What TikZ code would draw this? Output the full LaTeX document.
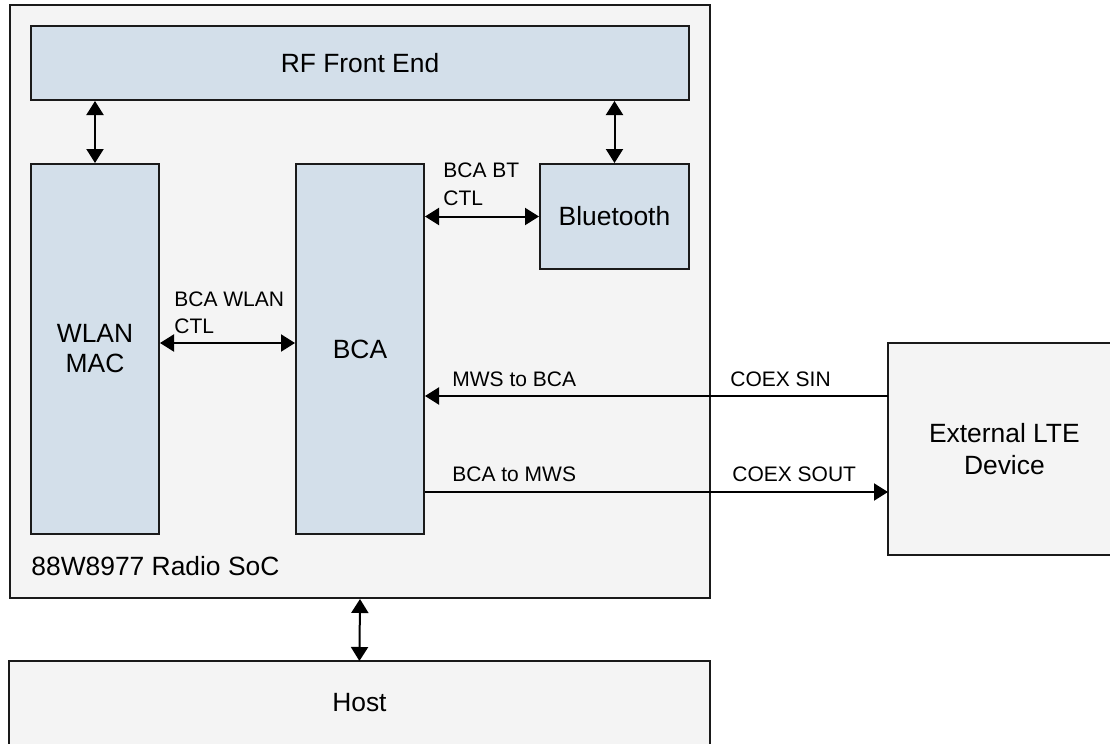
\documentclass[tikz,border=0pt]{standalone}
\usepackage{fontspec}
\setmainfont{Liberation Sans}
\usetikzlibrary{arrows.meta}
\definecolor{boxblue}{HTML}{D3DFEA}
\definecolor{boxgray}{HTML}{F4F4F4}
\definecolor{edge}{HTML}{1A1A1A}
\tikzset{
  blkbase/.style={anchor=north west, inner sep=0pt, align=center,
              font=\fontsize{13.2}{16}\selectfont},
  blk/.style={blkbase, draw=edge, line width=1pt},
  bluebox/.style={blk, fill=boxblue},
  graybox/.style={blk, fill=boxgray},
  openbox/.style={blkbase, fill=boxgray},
  outline/.style={draw=edge, line width=1pt},
  lbl/.style={anchor=base west, inner sep=0pt, align=left, font=\fontsize{10.5}{13.5}\selectfont},
  conn/.style={draw=black, line width=1pt},
  biarrow/.style={conn, {Triangle[length=7pt,width=8.5pt]}-{Triangle[length=7pt,width=8.5pt]}},
  onearrow/.style={conn, -{Triangle[length=7pt,width=8.5pt]}},
}
\begin{document}
\begin{tikzpicture}[x=0.5pt, y=-0.5pt]
\useasboundingbox (0,0) rectangle (1110,744);
\fill[white] (0,0) rectangle (1110,744);
\clip (0,0) rectangle (1110,744);
% SoC container
\node[graybox, minimum width=350pt, minimum height=296.5pt] (soc) at (9,4) {};
\node[anchor=base west, inner sep=0pt, font=\fontsize{13.2}{16}\selectfont] (soclbl) at (31,575) {88W8977 Radio SoC};
% inner blocks
\node[bluebox, minimum width=329pt, minimum height=37pt] (rf) at (30,25) {RF Front End};
\node[bluebox, minimum width=64pt, minimum height=185pt] (wlan) at (30,163) {WLAN\\[-1pt]MAC};
\node[bluebox, minimum width=64pt, minimum height=185pt] (bca) at (295,163) {BCA};
\node[bluebox, minimum width=74.5pt, minimum height=52.5pt] (bt) at (539,163) {Bluetooth};
% external blocks (cut by the picture edge)
\node[openbox, minimum width=116pt, minimum height=105.5pt] (lte) at (888,343) {External LTE\\Device};
\draw[outline] (lte.north east) -- (lte.north west) -- (lte.south west) -- (lte.south east);
\node[openbox, minimum width=350pt, minimum height=41.5pt] (host) at (9,661) {Host};
\draw[outline] (host.south west) -- (host.north west) -- (host.north east) -- (host.south east);
% coordinates for connector heights
\coordinate (ywc) at (0,343);
\coordinate (ysin) at (0,396);
\coordinate (ysout) at (0,492);
% connectors
\draw[biarrow] (rf.south -| wlan.north) -- (wlan.north);
\draw[biarrow] (rf.south -| bt.north) -- (bt.north);
\draw[biarrow] (bt.west -| bca.east) -- (bt.west);
\draw[biarrow] (wlan.east |- ywc) -- (bca.west |- ywc);
\draw[onearrow] (lte.west |- ysin) -- (bca.east |- ysin);
\draw[onearrow] (bca.east |- ysout) -- (lte.west |- ysout);
\draw[biarrow] (soc.south) -- (host.north);
% connector labels
\node[lbl] (lblbt) at (443,205) {BCA BT\\CTL};
\node[lbl] (lblwlan) at (174,333) {BCA WLAN\\CTL};
\node[lbl] (lblmws) at (452,386) {MWS to BCA};
\node[lbl] (lblsin) at (730,386) {COEX SIN};
\node[lbl] (lblbca) at (452,481) {BCA to MWS};
\node[lbl] (lblsout) at (732,481) {COEX SOUT};
\end{tikzpicture}
\end{document}
